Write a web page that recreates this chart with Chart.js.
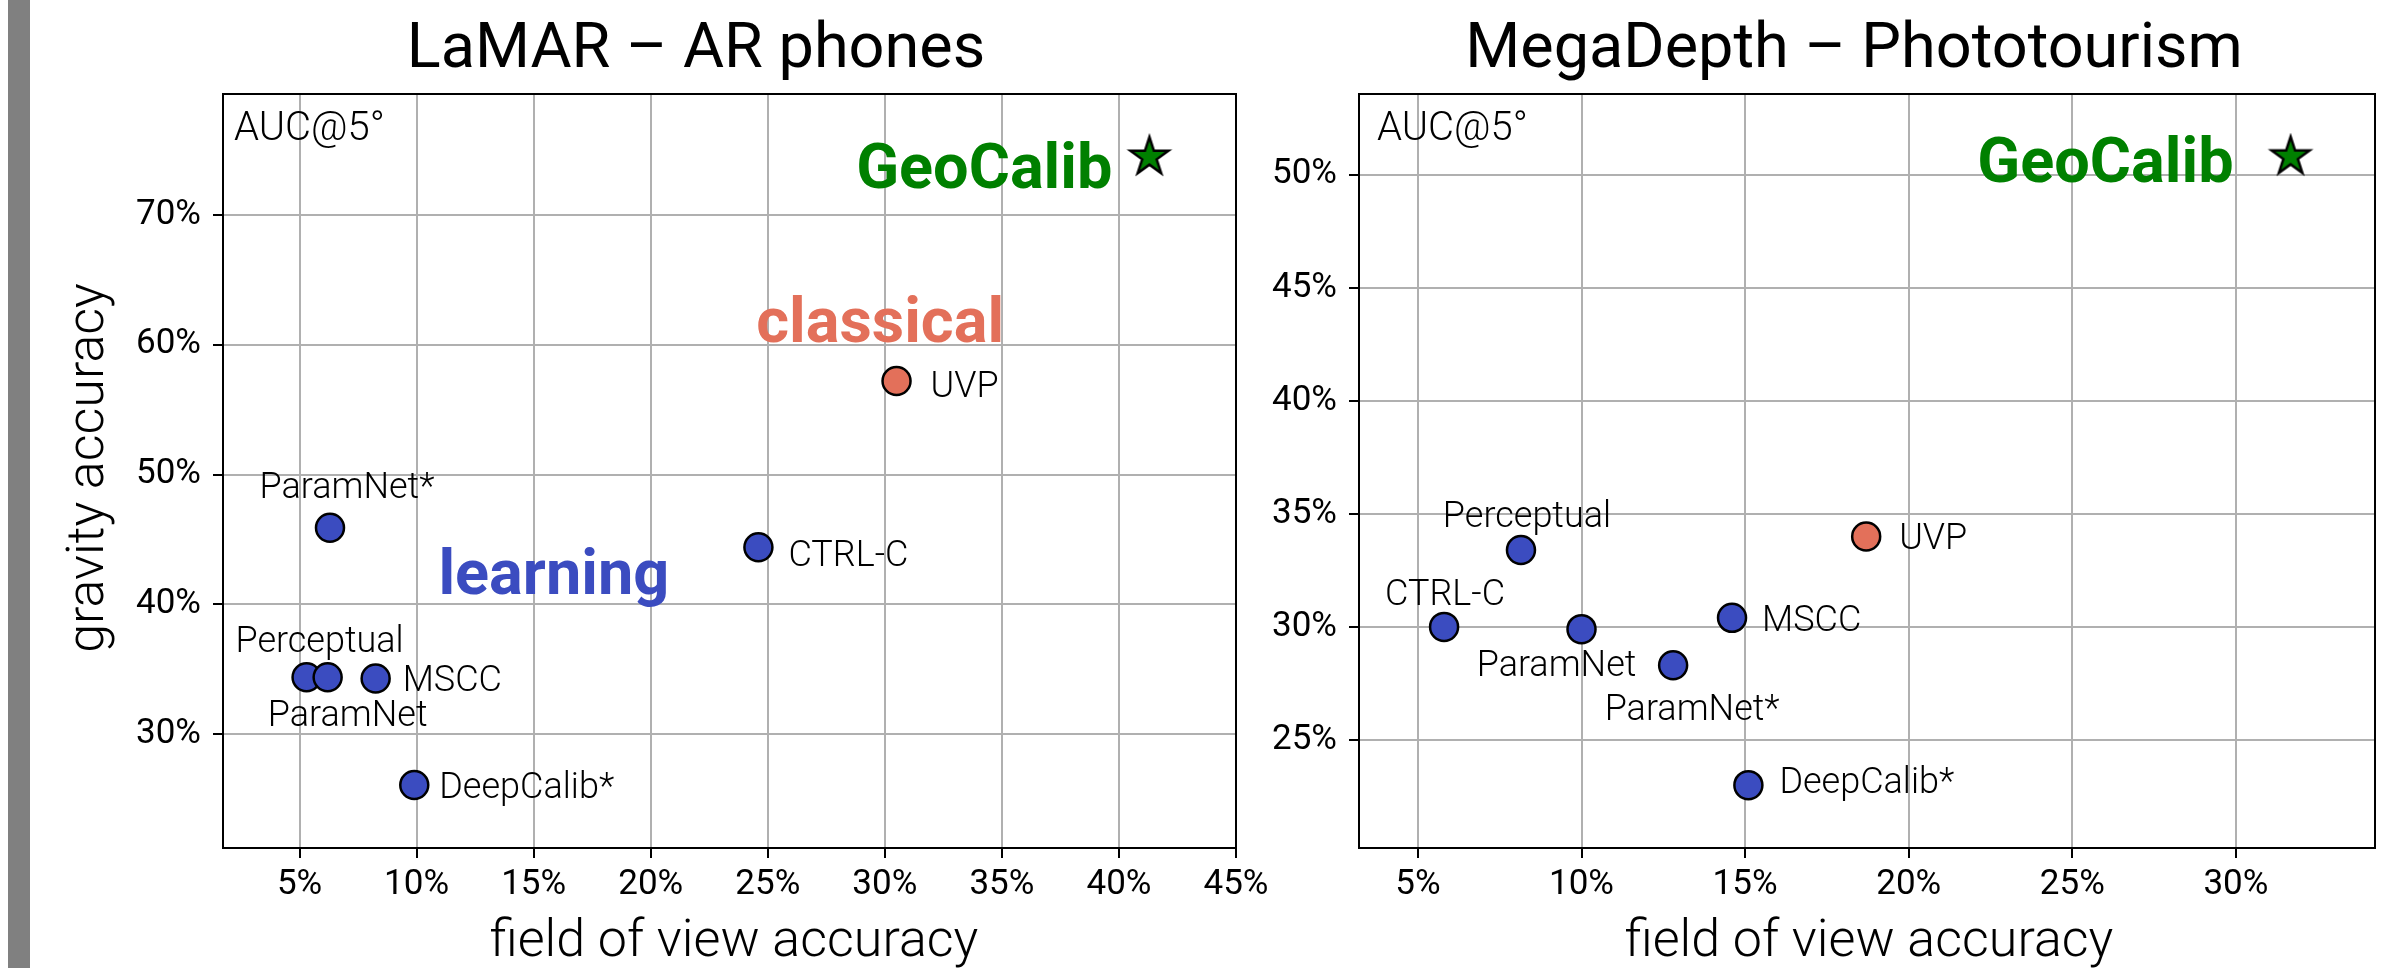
<!DOCTYPE html>
<html>
<head>
<meta charset="utf-8">
<script src="https://cdn.jsdelivr.net/npm/chart.js@4.4.1/dist/chart.umd.min.js"></script>
<style>
  html, body { margin: 0; padding: 0; background: #fff; }
  body { width: 2396px; height: 968px; position: relative; overflow: hidden; }
  #bar { position: absolute; left: 8px; top: 0; width: 22px; height: 968px; background: #808080; }
  canvas { position: absolute; top: 0; }
</style>
</head>
<body>
<div id="bar"></div>
<canvas id="lamar" width="1300" height="968" style="left:0"></canvas>
<canvas id="mega" width="1146" height="968" style="left:1250px"></canvas>
<script>
// LaMAR - AR phones
const lamarLearnNames = ['ParamNet*', 'CTRL-C', 'Perceptual', 'ParamNet', 'MSCC', 'DeepCalib*'];
const lamarLearnFov = [6.3, 24.6, 5.3, 6.2, 8.25, 9.9];
const lamarLearnGrav = [45.9, 44.4, 34.4, 34.4, 34.3, 26.1];
const lamarClassicNames = ['UVP'];
const lamarClassicFov = [30.5];
const lamarClassicGrav = [57.2];
const lamarOursFov = [41.3];
const lamarOursGrav = [74.45];
const lamarXTicks = [5, 10, 15, 20, 25, 30, 35, 40, 45];
const lamarYTicks = [30, 40, 50, 60, 70];

// MegaDepth - Phototourism
const megaLearnNames = ['Perceptual', 'CTRL-C', 'ParamNet', 'ParamNet*', 'MSCC', 'DeepCalib*'];
const megaLearnFov = [8.15, 5.8, 10.0, 12.8, 14.6, 15.1];
const megaLearnGrav = [33.4, 30.0, 29.9, 28.3, 30.4, 23.0];
const megaClassicNames = ['UVP'];
const megaClassicFov = [18.7];
const megaClassicGrav = [34.0];
const megaOursFov = [31.67];
const megaOursGrav = [50.8];
const megaXTicks = [5, 10, 15, 20, 25, 30];
const megaYTicks = [25, 30, 35, 40, 45, 50];

const BLUE = '#3b4cc0';
const RED = '#e3705a';
const GREEN = '#008000';
const FONT = 'Roboto, "Noto Sans", sans-serif';

function starImage(r, fill) {
  const c = document.createElement('canvas');
  const s = Math.ceil(2 * r + 8);
  c.width = c.height = s;
  const g = c.getContext('2d');
  g.translate(s / 2, s / 2);
  g.beginPath();
  for (let i = 0; i < 10; i++) {
    const rad = i % 2 ? r * 0.382 : r;
    const ang = -Math.PI / 2 + i * Math.PI / 5;
    g.lineTo(rad * Math.cos(ang), rad * Math.sin(ang));
  }
  g.closePath();
  g.fillStyle = fill;
  g.fill();
  g.lineWidth = 2.5;
  g.lineJoin = 'miter';
  g.strokeStyle = '#000';
  g.stroke();
  return c;
}

const zip = (xs, ys) => xs.map((v, i) => ({ x: v, y: ys[i] }));

// titles, point labels, group names, frame
const annotate = {
  id: 'annotate',
  afterDatasetsDraw(chart, args, o) {
    const { ctx, chartArea: a, scales: { x, y } } = chart;
    ctx.save();
    ctx.strokeStyle = '#000';
    ctx.lineWidth = 2;
    ctx.strokeRect(a.left, a.top, a.right - a.left, a.bottom - a.top);

    ctx.fillStyle = '#000';
    ctx.textBaseline = 'alphabetic';
    ctx.textAlign = 'center';
    ctx.font = `63px ${FONT}`;
    ctx.fillText(o.title, o.titleX, 67);

    ctx.font = `300 52px ${FONT}`;
    ctx.fillText('field of view accuracy', o.xLabelX, 956);
    if (o.yLabel) {
      ctx.save();
      ctx.translate(103, 468);
      ctx.rotate(-Math.PI / 2);
      ctx.fillText(o.yLabel, 0, 0);
      ctx.restore();
    }

    ctx.textAlign = 'left';
    ctx.font = `300 40px ${FONT}`;
    ctx.fillText('AUC@5°', a.left + o.aucDx, a.top + 46);

    ctx.font = `300 36px ${FONT}`;
    chart.data.datasets.forEach(ds => {
      (ds.names || []).forEach((n, i) => {
        const p = ds.data[i];
        const off = o.offsets[n];
        ctx.textAlign = off[2];
        ctx.fillText(n, x.getPixelForValue(p.x) + off[0], y.getPixelForValue(p.y) + off[1]);
      });
    });

    ctx.font = `bold 63px ${FONT}`;
    o.groups.forEach(gr => {
      ctx.fillStyle = gr.color;
      ctx.textAlign = gr.align;
      ctx.fillText(gr.text, x.getPixelForValue(gr.x) + (gr.dx || 0), y.getPixelForValue(gr.y) + (gr.dy || 0));
    });
    ctx.restore();
  }
};

function makeChart(id, d) {
  const tickFont = { family: FONT, size: 35 };
  const grid = { color: '#b0b0b0', lineWidth: 2, tickLength: 10, tickColor: '#000', tickWidth: 2 };
  const border = { color: '#000', width: 2 };
  return new Chart(document.getElementById(id), {
    type: 'scatter',
    data: {
      datasets: [
        {
          names: d.learnNames,
          data: zip(d.learnFov, d.learnGrav),
          backgroundColor: BLUE, borderColor: '#000', borderWidth: 2.5, pointRadius: 14
        },
        {
          names: d.classicNames,
          data: zip(d.classicFov, d.classicGrav),
          backgroundColor: RED, borderColor: '#000', borderWidth: 2.5, pointRadius: 14
        },
        {
          data: zip(d.oursFov, d.oursGrav),
          pointStyle: starImage(20, GREEN), pointRadius: 20
        }
      ]
    },
    options: {
      responsive: false,
      animation: false,
      events: [],
      layout: { padding: d.padding },
      plugins: { legend: { display: false }, tooltip: { enabled: false }, annotate: d.annot },
      scales: {
        x: {
          type: 'linear', min: d.xMin, max: d.xMax,
          grid, border,
          ticks: { color: '#000', font: tickFont, padding: 6, autoSkip: false, maxRotation: 0, callback: v => v + '%' },
          afterBuildTicks: s => { s.ticks = d.xTicks.map(v => ({ value: v })); },
          afterFit: s => { s.height = 120; s.paddingLeft = 0; s.paddingRight = 0; }
        },
        y: {
          type: 'linear', min: d.yMin, max: d.yMax,
          grid, border,
          ticks: { color: '#000', font: tickFont, padding: 12, autoSkip: false, callback: v => v + '%' },
          afterBuildTicks: s => { s.ticks = d.yTicks.map(v => ({ value: v })); },
          afterFit: s => { s.width = d.yWidth; s.paddingTop = 0; s.paddingBottom = 0; }
        }
      }
    },
    plugins: [annotate]
  });
}

makeChart('lamar', {
  learnNames: lamarLearnNames, learnFov: lamarLearnFov, learnGrav: lamarLearnGrav,
  classicNames: lamarClassicNames, classicFov: lamarClassicFov, classicGrav: lamarClassicGrav,
  oursFov: lamarOursFov, oursGrav: lamarOursGrav,
  xTicks: lamarXTicks, yTicks: lamarYTicks,
  xMin: 1.73, xMax: 45, yMin: 21.25, yMax: 79.3,
  padding: { left: 0, top: 94, right: 64, bottom: 0 }, yWidth: 223,
  annot: {
    title: 'LaMAR – AR phones', titleX: 696, xLabelX: 734, yLabel: 'gravity accuracy', aucDx: 11,
    offsets: {
      'ParamNet*': [17, -30, 'center'], 'CTRL-C': [30, 19, 'left'], 'Perceptual': [13, -25, 'center'],
      'ParamNet': [20, 49, 'center'], 'MSCC': [27, 13, 'left'], 'DeepCalib*': [25, 13, 'left'],
      'UVP': [34, 16, 'left']
    },
    groups: [
      { text: 'GeoCalib', color: GREEN, align: 'right', x: lamarOursFov[0], y: lamarOursGrav[0], dx: -37, dy: 31 },
      { text: 'classical', color: RED, align: 'center', x: 29.8, y: 60.2 },
      { text: 'learning', color: BLUE, align: 'center', x: 15.86, y: 40.78 }
    ]
  }
});

makeChart('mega', {
  learnNames: megaLearnNames, learnFov: megaLearnFov, learnGrav: megaLearnGrav,
  classicNames: megaClassicNames, classicFov: megaClassicFov, classicGrav: megaClassicGrav,
  oursFov: megaOursFov, oursGrav: megaOursGrav,
  xTicks: megaXTicks, yTicks: megaYTicks,
  xMin: 3.2, xMax: 34.25, yMin: 20.22, yMax: 53.57,
  padding: { left: 0, top: 94, right: 20, bottom: 0 }, yWidth: 109,
  annot: {
    title: 'MegaDepth – Phototourism', titleX: 604, xLabelX: 619, yLabel: null, aucDx: 18,
    offsets: {
      'Perceptual': [6, -23, 'center'], 'CTRL-C': [1, -22, 'center'], 'ParamNet': [-25, 47, 'center'],
      'ParamNet*': [19, 55, 'center'], 'MSCC': [30, 13, 'left'], 'DeepCalib*': [31, 8, 'left'],
      'UVP': [33, 13, 'left']
    },
    groups: [
      { text: 'GeoCalib', color: GREEN, align: 'right', x: megaOursFov[0], y: megaOursGrav[0], dx: -57, dy: 25 }
    ]
  }
});
</script>
</body>
</html>
